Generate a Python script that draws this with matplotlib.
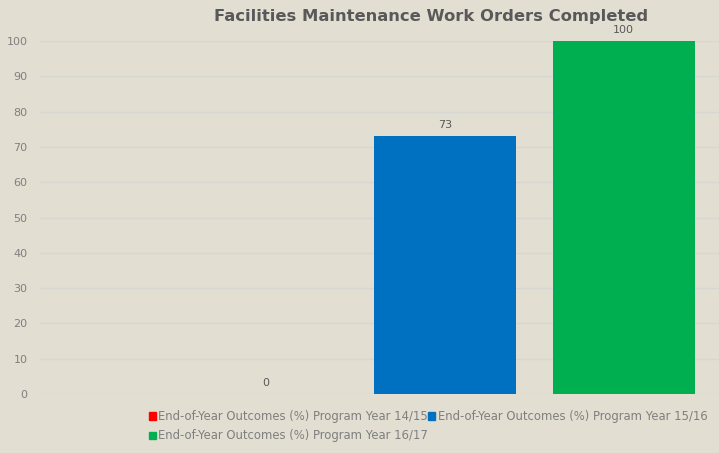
import matplotlib
matplotlib.use("Agg")
import matplotlib.pyplot as plt
from matplotlib.patches import Patch

# data
series = ["End-of-Year Outcomes (%) Program Year 14/15",
          "End-of-Year Outcomes (%) Program Year 15/16",
          "End-of-Year Outcomes (%) Program Year 16/17"]
values = [0, 73, 100]
colors = ["#FF0000", "#0070C0", "#00B050"]

BG = "#E3DED2"
GRAY = "#7F7F7F"

fig = plt.figure(figsize=(7.19, 4.53), dpi=100, facecolor=BG)
ax = fig.add_axes([40 / 719, 59 / 453, 679 / 719, 353 / 453], facecolor=BG)

xs = list(range(len(values)))
bars = ax.bar(xs, values, width=0.793, color=colors, zorder=3)
for x, v in zip(xs, values):
    ax.text(x, v + 1.8, f"{v}", ha="center", va="bottom", fontsize=8, color="#595959")

ax.set_xlim(-1.263, 2.533)
ax.set_ylim(0, 100)
ax.set_yticks(range(0, 101, 10))
ax.set_xticks([])
ax.grid(axis="y", color="#D6D6D2", linewidth=1, zorder=0)
for s in ax.spines.values():
    s.set_visible(False)
ax.tick_params(axis="y", length=0, labelsize=8, labelcolor=GRAY, pad=9)

fig.text(431 / 719, 1 - 16 / 453, "Facilities Maintenance Work Orders Completed", ha="center", va="center",
         fontsize=11.8, fontweight="bold", color="#595959")

# legend: row-wise order red, blue / green
handles = [Patch(color=c) for c in colors]
order = [0, 2, 1]
leg = fig.legend([handles[i] for i in order], [series[i] for i in order], ncol=2,
                 loc="lower left", bbox_to_anchor=(138 / 719, 0.0), frameon=False,
                 fontsize=8.4, labelcolor=GRAY, handlelength=0.6, handleheight=0.6,
                 handletextpad=0.25, columnspacing=0.0, labelspacing=0.55)

fig.savefig("out.png", dpi=100, facecolor=BG)
